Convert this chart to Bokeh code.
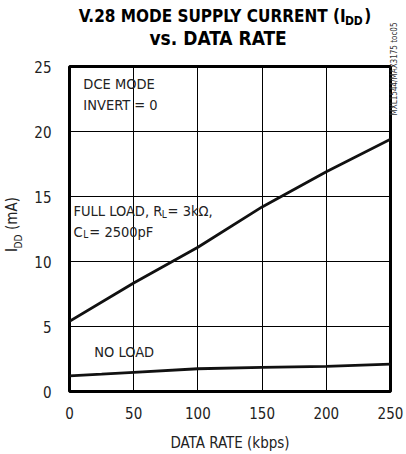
import math
from bokeh.plotting import figure
from bokeh.models import Range1d, FixedTicker, Label, LinearAxis
from bokeh.embed import file_html
from bokeh.resources import INLINE

# ---- data ----
rate_full = [0, 50, 100, 150, 200, 250]
idd_full = [5.4, 8.35, 11.1, 14.2, 16.9, 19.4]
rate_noload = [0, 25, 50, 100, 150, 200, 250]
idd_noload = [1.2, 1.33, 1.47, 1.75, 1.85, 1.93, 2.1]
x_ticks = [0, 50, 100, 150, 200, 250]
y_ticks = [0, 5, 10, 15, 20, 25]

FONT = "DejaVu Sans Condensed, Roboto Condensed, Liberation Sans, sans-serif"

p = figure(width=406, height=454, output_backend="svg", toolbar_location=None,
           x_range=Range1d(0, 250), y_range=Range1d(0, 25),
           min_border_left=68, min_border_right=14, min_border_top=66, min_border_bottom=62)
p.background_fill_color = "white"
p.border_fill_color = "white"
p.outline_line_color = "black"
p.outline_line_width = 3


def bare(ax):
    ax.axis_line_color = None
    ax.major_tick_line_color = None
    ax.minor_tick_line_color = None
    ax.major_tick_in = 0
    ax.major_tick_out = 0
    ax.minor_tick_in = 0
    ax.minor_tick_out = 0


p.xaxis.ticker = FixedTicker(ticks=x_ticks)
p.yaxis.ticker = FixedTicker(ticks=y_ticks)
for ax in (p.xaxis[0], p.yaxis[0]):
    bare(ax)
    ax.major_label_text_font = FONT
    ax.major_label_text_font_size = "15px"
    ax.major_label_text_color = "#222222"
p.xaxis.major_label_standoff = 15
p.yaxis.major_label_standoff = 18
p.xaxis.axis_label = "DATA RATE (kbps)"
p.xaxis.axis_label_text_font = FONT
p.xaxis.axis_label_text_font_size = "15px"
p.xaxis.axis_label_text_font_style = "normal"
p.xaxis.axis_label_text_color = "#222222"
p.xaxis.axis_label_standoff = 12

p.xgrid.ticker = FixedTicker(ticks=x_ticks)
p.ygrid.ticker = FixedTicker(ticks=y_ticks)
for g in (p.xgrid[0], p.ygrid[0]):
    g.grid_line_color = "black"
    g.grid_line_alpha = 1.0
    g.grid_line_width = 1

p.line(rate_full, idd_full, line_width=2.8, color="#111111")
p.line(rate_noload, idd_noload, line_width=2.8, color="#111111")


# canvas px -> data helpers (frame: x 68..392, y 66..392)
def dx(px):
    return round((px - 68) / 1.296, 2)


def dy(py):
    return round((392 - py) / 13.04, 2)


def text_axis(side, items, size, standoff, style="normal", color="#222222", orient="horizontal"):
    ax = LinearAxis(ticker=FixedTicker(ticks=[v for v, _ in items]),
                    major_label_overrides={v: t for v, t in items})
    bare(ax)
    ax.major_label_text_font = FONT
    ax.major_label_text_font_size = size
    ax.major_label_text_font_style = style
    ax.major_label_text_color = color
    ax.major_label_standoff = standoff
    ax.major_label_orientation = orient
    p.add_layout(ax, side)
    return ax


# title, as label rows above the frame (inner row first)
text_axis("above", [(dx(218), "vs. DATA RATE")], "19px", 18, style="bold", color="black")
text_axis("above", [(dx(355), "DD")], "12px", -4, style="bold", color="black")
text_axis("above", [(dx(212), "V.28 MODE SUPPLY CURRENT (I"), (dx(369), ")")],
          "17px", -15, style="bold", color="black")

# y axis title I_DD (mA), as rotated label rows left of the tick labels
text_axis("left", [(dy(241.5), "DD")], "10px", 7, orient="vertical")
text_axis("left", [(dy(250), "I"), (dy(213.5), "(mA)")], "15px", -11, orient="vertical")

# watermark on the right
text_axis("right", [(dy(115), "MXL1544/MAX3175 toc05")], "8px", 4, color="#333333",
          orient=math.pi / 2)


def lab(x, y, text, size="14.5px"):
    p.add_layout(Label(x=x, y=y, text=text, text_font=FONT, text_font_size=size,
                       text_align="left", text_baseline="alphabetic", text_color="#222222"))


# annotations inside the frame
lab(dx(82), dy(84), "DCE MODE")
lab(dx(82), dy(105), "INVERT = 0")
lab(dx(72), dy(211), "FULL LOAD, R")
lab(dx(161), dy(214), "L", size="10px")
lab(dx(167), dy(211), " = 3k\u03a9,")
lab(dx(72), dy(232), "C")
lab(dx(82), dy(235), "L", size="10px")
lab(dx(88), dy(232), " = 2500pF")
lab(dx(93), dy(352), "NO LOAD")

open("out.html", "w").write(file_html(p, INLINE))
